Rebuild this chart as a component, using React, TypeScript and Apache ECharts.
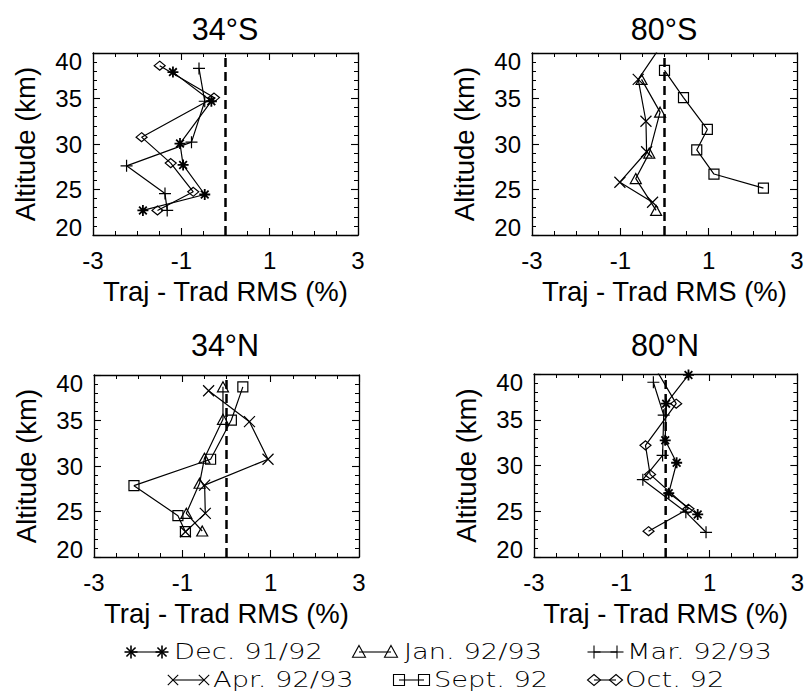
import React, { useEffect, useRef } from "react";
import * as echarts from "echarts";

// ---------------- data ----------------
const panelTitles = ["34°S", "80°S", "34°N", "80°N"];
const xLabel = "Traj - Trad RMS (%)";
const yLabel = "Altitude (km)";
const X_MIN = -3;
const X_MAX = 3;
const X_STEP = 2;
const Y_MIN = 20;
const Y_MAX = 40;
const Y_STEP = 5;
const ZERO_LINE_X = 0;

const seriesNames = ["Dec. 91/92", "Jan. 92/93", "Mar. 92/93", "Apr. 92/93", "Sept. 92", "Oct. 92"];

// 34°S
const s34DecRms = [-1.19, -0.32, -1.03, -0.96, -0.47, -1.87];
const s34DecAlt = [37.9, 34.7, 30.05, 27.7, 24.45, 22.7];
const s34MarRms = [-0.6, -0.47, -0.77, -2.24, -1.37, -1.32];
const s34MarAlt = [38.3, 34.7, 30.2, 27.6, 24.55, 22.7];
const s34OctRms = [-1.49, -0.26, -1.9, -1.24, -0.73, -1.54];
const s34OctAlt = [38.6, 35.1, 30.75, 27.9, 24.75, 22.7];

// 80°S
const s80SepRms = [0.0, 0.43, 0.97, 0.73, 1.12, 2.24];
const s80SepAlt = [38.1, 35.1, 31.6, 29.35, 26.7, 25.15];
const s80AprRms = [-0.05, -0.595, -0.42, -0.405, -1.01, -0.27];
const s80AprAlt = [41.0, 37.1, 32.5, 29.15, 25.8, 23.6];
const s80JanRms = [-0.52, -0.1, -0.345, -0.65, -0.19];
const s80JanAlt = [37.1, 33.5, 29.0, 26.2, 22.7];

// 34°N
const n34SepRms = [0.37, 0.11, -0.36, -2.095, -1.1, -0.93];
const n34SepAlt = [38.7, 35.05, 30.74, 27.84, 24.54, 22.78];
const n34JanRms = [-0.08, -0.08, -0.5, -0.61, -0.91, -0.55];
const n34JanAlt = [38.7, 35.13, 30.85, 28.1, 24.8, 22.86];
const n34AprRms = [-0.405, 0.52, 0.94, -0.495, -0.48, -0.93];
const n34AprAlt = [38.27, 34.87, 30.74, 27.9, 24.8, 22.78];

// 80°N
const n80MarRms = [-0.28, -0.045, -0.07, -0.52, 0.46, 0.92];
const n80MarAlt = [39.1, 35.5, 31.1, 28.45, 24.9, 22.7];
const n80DecRms = [0.52, 0.01, -0.01, 0.25, 0.07, 0.73];
const n80DecAlt = [39.9, 36.76, 32.75, 30.3, 26.98, 24.65];
const n80OctRms = [-0.28, 0.24, -0.46, -0.355, 0.52, -0.39];
const n80OctAlt = [41.0, 36.76, 32.2, 29.03, 25.27, 22.82];

// ---------------- styling / layout ----------------
const FONT = "'Liberation Sans', Arial, Helvetica, sans-serif";
const LEGEND_FONT = "'DejaVu Sans', sans-serif";

const SYM: Record<string, string> = {
  asterisk: "path://M5,0L5,10M0,5L10,5M1.5,1.5L8.5,8.5M8.5,1.5L1.5,8.5",
  plus: "path://M5,0L5,10M0,5L10,5",
  cross: "path://M0,0L10,10M10,0L0,10",
  triangle: "triangle",
  rect: "rect",
  diamond: "diamond",
};
const SYM_SIZE: Record<string, any> = {
  asterisk: 11,
  plus: 12,
  cross: 11,
  triangle: [11, 10],
  rect: 10,
  diamond: [11, 9],
};
const SYM_WIDTH: Record<string, number> = {
  asterisk: 1.8,
  plus: 1.2,
  cross: 1.2,
  triangle: 1.2,
  rect: 1.2,
  diamond: 1.2,
};
const seriesSymbol: Record<string, string> = {
  "Dec. 91/92": "asterisk",
  "Jan. 92/93": "triangle",
  "Mar. 92/93": "plus",
  "Apr. 92/93": "cross",
  "Sept. 92": "rect",
  "Oct. 92": "diamond",
};

const panelSeries = [
  [
    { name: "Dec. 91/92", rms: s34DecRms, alt: s34DecAlt },
    { name: "Mar. 92/93", rms: s34MarRms, alt: s34MarAlt },
    { name: "Oct. 92", rms: s34OctRms, alt: s34OctAlt },
  ],
  [
    { name: "Sept. 92", rms: s80SepRms, alt: s80SepAlt },
    { name: "Apr. 92/93", rms: s80AprRms, alt: s80AprAlt },
    { name: "Jan. 92/93", rms: s80JanRms, alt: s80JanAlt },
  ],
  [
    { name: "Sept. 92", rms: n34SepRms, alt: n34SepAlt },
    { name: "Jan. 92/93", rms: n34JanRms, alt: n34JanAlt },
    { name: "Apr. 92/93", rms: n34AprRms, alt: n34AprAlt },
  ],
  [
    { name: "Mar. 92/93", rms: n80MarRms, alt: n80MarAlt },
    { name: "Dec. 91/92", rms: n80DecRms, alt: n80DecAlt },
    { name: "Oct. 92", rms: n80OctRms, alt: n80OctAlt },
  ],
];

const grids = [
  { left: 93, top: 53, width: 265, height: 182 },
  { left: 532, top: 53, width: 265, height: 182 },
  { left: 94, top: 375, width: 265, height: 182 },
  { left: 534, top: 374, width: 264, height: 183 },
];
const titlePos = [
  { x: 225, y: 13 },
  { x: 664, y: 13 },
  { x: 225, y: 329 },
  { x: 665, y: 329 },
];

const legendLayout = [
  { x1: 131, x2: 162, tx: 174, y: 652 },
  { x1: 359, x2: 391, tx: 404, y: 652 },
  { x1: 594, x2: 617, tx: 627, y: 652 },
  { x1: 173, x2: 204, tx: 213, y: 680 },
  { x1: 399, x2: 424, tx: 434, y: 680 },
  { x1: 594, x2: 616, tx: 625, y: 680 },
];
const LEGEND_STRETCH = 1.3;

function legendSymbol(kind: string, cx: number, cy: number): any[] {
  const s = 6.5;
  const st = { stroke: "#000", fill: "none", lineWidth: kind === "asterisk" ? 1.6 : 1.1 };
  const ln = (x1: number, y1: number, x2: number, y2: number) => ({
    type: "line",
    shape: { x1, y1, x2, y2 },
    style: st,
  });
  switch (kind) {
    case "asterisk":
      return [
        ln(cx - s, cy, cx + s, cy),
        ln(cx, cy - s, cx, cy + s),
        ln(cx - s * 0.7, cy - s * 0.7, cx + s * 0.7, cy + s * 0.7),
        ln(cx - s * 0.7, cy + s * 0.7, cx + s * 0.7, cy - s * 0.7),
      ];
    case "plus":
      return [ln(cx - s, cy, cx + s, cy), ln(cx, cy - s, cx, cy + s)];
    case "cross":
      return [ln(cx - s * 0.8, cy - s * 0.8, cx + s * 0.8, cy + s * 0.8), ln(cx - s * 0.8, cy + s * 0.8, cx + s * 0.8, cy - s * 0.8)];
    case "triangle":
      return [
        {
          type: "polygon",
          shape: { points: [[cx, cy - s], [cx + s, cy + s * 0.8], [cx - s, cy + s * 0.8]] },
          style: st,
        },
      ];
    case "rect":
      return [{ type: "rect", shape: { x: cx - 5.5, y: cy - 5.5, width: 11, height: 11 }, style: st }];
    case "diamond":
      return [
        {
          type: "polygon",
          shape: { points: [[cx, cy - 5.5], [cx + 6.5, cy], [cx, cy + 5.5], [cx - 6.5, cy]] },
          style: st,
        },
      ];
  }
  return [];
}

function buildOption() {
  const xAxes: any[] = [];
  const yAxes: any[] = [];
  const series: any[] = [];
  const axisLine = { show: true, onZero: false, lineStyle: { color: "#000", width: 1.3 } };
  const tick = { show: true, inside: true, length: 7, lineStyle: { color: "#000", width: 1.1 } };

  grids.forEach((_, i) => {
    xAxes.push({
      type: "value",
      gridIndex: i,
      position: "bottom",
      min: X_MIN,
      max: X_MAX,
      interval: X_STEP,
      axisLine,
      axisTick: tick,
      minorTick: { show: true, splitNumber: 4, length: 4, lineStyle: { color: "#000", width: 1 } },
      splitLine: { show: false },
      minorSplitLine: { show: false },
      axisLabel: { fontSize: 24, color: "#000", fontFamily: FONT, margin: 13 },
      name: xLabel,
      nameLocation: "middle",
      nameGap: 42,
      nameTextStyle: { fontSize: 27.5, color: "#000", fontFamily: FONT },
    });
    yAxes.push({
      type: "value",
      gridIndex: i,
      position: "left",
      min: Y_MIN,
      max: Y_MAX,
      interval: Y_STEP,
      axisLine,
      axisTick: tick,
      minorTick: { show: true, splitNumber: 5, length: 4, lineStyle: { color: "#000", width: 1 } },
      splitLine: { show: false },
      minorSplitLine: { show: false },
      axisLabel: {
        fontSize: 24,
        lineHeight: 16,
        color: "#000",
        fontFamily: FONT,
        margin: 11,
        verticalAlignMinLabel: "bottom",
        verticalAlignMaxLabel: "top",
      },
      name: yLabel,
      nameLocation: "middle",
      nameRotate: 90,
      nameGap: 54,
      nameTextStyle: { fontSize: 27.5, color: "#000", fontFamily: FONT },
    });
  });
  // mirrored axes (box ticks on top / right)
  grids.forEach((_, i) => {
    xAxes.push({
      type: "value",
      gridIndex: i,
      position: "top",
      min: X_MIN,
      max: X_MAX,
      interval: X_STEP,
      axisLine,
      axisTick: tick,
      minorTick: { show: true, splitNumber: 4, length: 4, lineStyle: { color: "#000", width: 1 } },
      splitLine: { show: false },
      axisLabel: { show: false },
    });
    yAxes.push({
      type: "value",
      gridIndex: i,
      position: "right",
      min: Y_MIN,
      max: Y_MAX,
      interval: Y_STEP,
      axisLine,
      axisTick: tick,
      minorTick: { show: true, splitNumber: 5, length: 4, lineStyle: { color: "#000", width: 1 } },
      splitLine: { show: false },
      axisLabel: { show: false },
    });
  });

  panelSeries.forEach((list, i) => {
    series.push({
      type: "line",
      xAxisIndex: i,
      yAxisIndex: i,
      data: [
        [ZERO_LINE_X, Y_MIN],
        [ZERO_LINE_X, Y_MAX],
      ],
      symbol: "none",
      silent: true,
      z: 2,
      lineStyle: { color: "#000", width: 2.5, type: [9, 5] },
    });
    list.forEach((s) => {
      const kind = seriesSymbol[s.name];
      series.push({
        type: "line",
        name: s.name,
        xAxisIndex: i,
        yAxisIndex: i,
        data: s.rms.map((v, k) => [v, s.alt[k]]),
        symbol: SYM[kind],
        symbolSize: SYM_SIZE[kind],
        showAllSymbol: true,
        clip: true,
        silent: true,
        z: 3,
        lineStyle: { color: "#000", width: 1.2 },
        itemStyle: { color: "none", borderColor: "#000", borderWidth: SYM_WIDTH[kind] },
        emphasis: { disabled: true },
      });
    });
  });

  const graphics: any[] = [];
  seriesNames.forEach((name, k) => {
    const L = legendLayout[k];
    const kind = seriesSymbol[name];
    graphics.push({
      type: "line",
      shape: { x1: L.x1, y1: L.y, x2: L.x2, y2: L.y },
      style: { stroke: "#000", lineWidth: 1.1 },
    });
    legendSymbol(kind, L.x1, L.y).forEach((g) => graphics.push(g));
    legendSymbol(kind, L.x2, L.y).forEach((g) => graphics.push(g));
    graphics.push({
      type: "text",
      x: L.tx,
      y: L.y,
      scaleX: LEGEND_STRETCH,
      style: {
        text: name,
        fill: "#000",
        font: `200 21px ${LEGEND_FONT}`,
        verticalAlign: "middle",
        align: "left",
      },
    });
  });

  return {
    animation: false,
    backgroundColor: "#fff",
    title: panelTitles.map((t, i) => ({
      text: t,
      left: titlePos[i].x,
      top: titlePos[i].y,
      textAlign: "center",
      padding: 0,
      textStyle: { fontSize: 30.5, fontWeight: "normal", fontFamily: FONT, color: "#000" },
    })),
    grid: grids,
    xAxis: xAxes,
    yAxis: yAxes,
    series,
    graphic: graphics,
  };
}

export default function App() {
  const ref = useRef<HTMLDivElement>(null);
  useEffect(() => {
    if (!ref.current) return;
    const chart = echarts.init(ref.current, null, { renderer: "svg" });
    chart.setOption(buildOption() as any);
    return () => chart.dispose();
  }, []);
  return (
    <div
      ref={ref}
      style={{ position: "absolute", left: 0, top: 0, width: 807, height: 692, background: "#fff" }}
    />
  );
}
